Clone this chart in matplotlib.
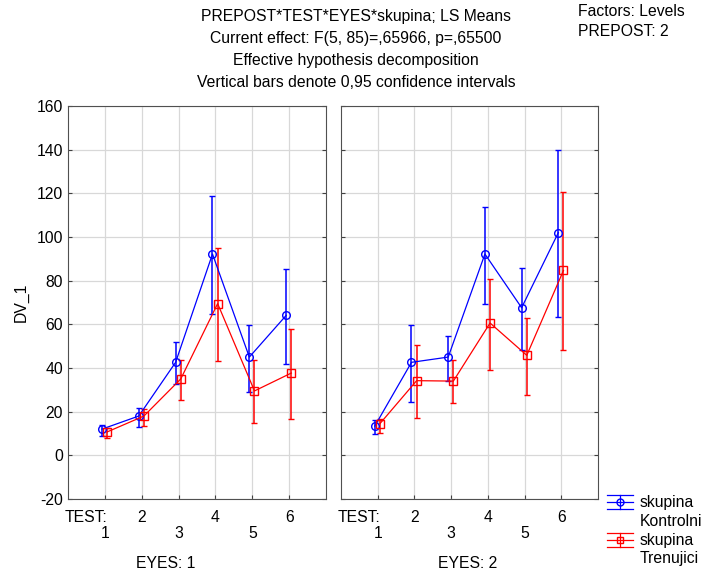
import numpy as np
import matplotlib
matplotlib.use("Agg")
import matplotlib.pyplot as plt
from matplotlib.lines import Line2D
from matplotlib.transforms import blended_transform_factory

plt.rcParams['font.family'] = ['Liberation Sans', 'DejaVu Sans']
plt.rcParams['axes.unicode_minus'] = False

# LS means and 0.95 CI bounds
test = [1, 2, 3, 4, 5, 6]

kon_e1 = [12.0, 18.0, 42.6, 92.2, 45.0, 64.1]
kon_e1_lo = [9.0, 13.0, 32.5, 64.6, 29.0, 42.0]
kon_e1_hi = [14.0, 21.8, 51.9, 118.8, 59.5, 85.2]

tre_e1 = [10.7, 18.0, 35.0, 69.5, 29.5, 37.7]
tre_e1_lo = [8.1, 13.3, 25.2, 43.2, 14.8, 16.5]
tre_e1_hi = [12.5, 21.4, 43.5, 95.0, 43.8, 57.8]

kon_e2 = [13.4, 42.6, 45.0, 92.2, 67.6, 102.0]
kon_e2_lo = [9.6, 24.4, 34.0, 69.5, 48.4, 63.3]
kon_e2_hi = [16.3, 59.9, 54.8, 113.7, 86.0, 139.7]

tre_e2 = [14.5, 34.2, 34.0, 60.6, 45.8, 84.7]
tre_e2_lo = [10.4, 17.1, 24.0, 39.2, 27.8, 48.4]
tre_e2_hi = [16.8, 50.7, 43.5, 80.9, 63.0, 120.6]

groups = ["Kontrolni", "Trenujici"]

titles = ["PREPOST*TEST*EYES*skupina; LS Means",
          "Current effect: F(5, 85)=,65966, p=,65500",
          "Effective hypothesis decomposition",
          "Vertical bars denote 0,95 confidence intervals"]

W, H = 702, 571
fig = plt.figure(figsize=(W / 100, H / 100), dpi=100)


def px_axes(x0, x1, y0, y1):
    return fig.add_axes([x0 / W, (H - y1) / H, (x1 - x0) / W, (y1 - y0) / H])


def fy(y):
    return 1 - y / H


panels = [
    (px_axes(68, 326, 106, 499), "EYES: 1", 166,
     (kon_e1, kon_e1_lo, kon_e1_hi), (tre_e1, tre_e1_lo, tre_e1_hi)),
    (px_axes(341, 598, 106, 499), "EYES: 2", 468,
     (kon_e2, kon_e2_lo, kon_e2_hi), (tre_e2, tre_e2_lo, tre_e2_hi)),
]

fs = 11.3
x = np.array(test)
for i, (ax, eyes, ex, kon, tre) in enumerate(panels):
    for (m, lo, hi), col, mk, off in [(kon, 'blue', 'o', -0.08), (tre, 'red', 's', 0.06)]:
        m = np.array(m)
        err = [m - np.array(lo), np.array(hi) - m]
        ax.errorbar(x + off, m, yerr=err, color=col, marker=mk, ms=5.5,
                    mfc='none', mew=1.0, lw=0.9, elinewidth=1.1,
                    capsize=2, capthick=1.0, zorder=3)
    ax.set_xlim(0, 7)
    ax.set_ylim(-20, 160)
    ax.set_xticks(test)
    ax.set_xticklabels([])
    ax.set_yticks(np.arange(-20, 161, 20))
    ax.grid(True, color='#d8d8d8', lw=0.9)
    ax.set_axisbelow(True)
    ax.tick_params(direction='in', length=3, right=True, top=False,
                   labelsize=fs, color='#404040')
    for s in ax.spines.values():
        s.set_color('#505050')
    if i == 1:
        ax.set_yticklabels([])
    else:
        ax.set_ylabel("DV_1", fontsize=fs, labelpad=6)

    tr = blended_transform_factory(ax.transData, fig.transFigure)
    ax.text(0.5, fy(517), "TEST:", transform=tr, fontsize=fs,
            ha='center', va='center')
    for t in test:
        yy = 517 if t % 2 == 0 else 534
        ax.text(t, fy(yy), str(t), transform=tr, fontsize=fs,
                ha='center', va='center')
    fig.text(ex / W, fy(563), eyes, fontsize=fs, ha='center', va='center')

for k, line in enumerate(titles):
    fig.text(356 / W, fy(17 + k * 22), line, fontsize=fs,
             ha='center', va='center')
fig.text(578 / W, fy(12), "Factors: Levels", fontsize=fs, va='center')
fig.text(578 / W, fy(31), "PREPOST: 2", fontsize=fs, va='center')

# legend drawn by hand, glyph beside the first text line
for k, (g, col, mk) in enumerate(zip(groups, ['blue', 'red'], ['o', 's'])):
    y0 = 502 + 38 * k
    x0, x1 = 607 / W, 633 / W
    xm = (x0 + x1) / 2
    for dy in (-7, 7):
        fig.add_artist(Line2D([x0, x1], [fy(y0 + dy)] * 2, color=col, lw=0.9))
    fig.add_artist(Line2D([xm, xm], [fy(y0 - 7), fy(y0 + 7)], color=col, lw=0.9))
    fig.add_artist(Line2D([x0, x1], [fy(y0)] * 2, color=col, lw=0.9))
    fig.add_artist(Line2D([xm], [fy(y0)], color=col, marker=mk, ms=5,
                          mfc='none', mew=1.0))
    fig.text(640 / W, fy(y0), "skupina", fontsize=fs, va='center')
    fig.text(640 / W, fy(y0 + 19), g, fontsize=fs, va='center')

fig.savefig("out.png", dpi=100)
